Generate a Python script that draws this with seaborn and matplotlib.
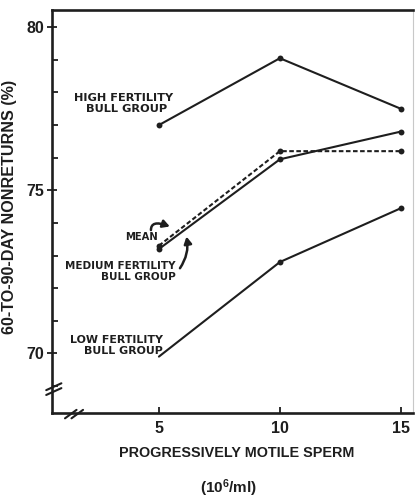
import numpy as np
import pandas as pd
import matplotlib
matplotlib.use("Agg")
import matplotlib.pyplot as plt
import seaborn as sns

# Sperm concentration (10^6/ml) and 60-90 day nonreturn rates (%)
concentration = [5, 10, 15]
high_fertility = [77.0, 79.05, 77.5]
medium_fertility = [73.2, 75.95, 76.8]
mean_all = [73.3, 76.2, 76.2]
low_fertility = [69.9, 72.8, 74.45]

x_ticks = [5, 10, 15]
y_ticks = [70, 75, 80]

sns.set_theme(style="ticks")
plt.rcParams["font.family"] = ["Liberation Sans", "DejaVu Sans"]
plt.rcParams["font.weight"] = "bold"
plt.rcParams["mathtext.default"] = "regular"

df = pd.DataFrame({
    "conc": concentration * 4,
    "rate": high_fertility + medium_fertility + mean_all + low_fertility,
    "group": ["high"] * 3 + ["medium"] * 3 + ["mean"] * 3 + ["low"] * 3,
})

fig = plt.figure(figsize=(4.15, 4.98), dpi=100)
ax = fig.add_axes([0.1253, 0.1713, 0.8697, 0.8087])

ink = "#1e1e1e"
for grp, ls in [("high", "-"), ("medium", "-"), ("mean", (0, (2.2, 1.2))), ("low", "-")]:
    sub = df[df.group == grp]
    sns.lineplot(data=sub, x="conc", y="rate", ax=ax, color=ink, lw=1.5,
                 linestyle=ls, legend=False)
    pts = sub if grp != "low" else sub[sub.conc > 5]
    sns.scatterplot(data=pts, x="conc", y="rate", ax=ax, color=ink, s=18,
                    edgecolor=ink, linewidth=0, legend=False, zorder=5)

ax.set_xlim(0.58, 15.5)
ax.set_ylim(68.18, 80.53)
ax.set_xticks(x_ticks)
ax.set_yticks(y_ticks)
ax.set_yticks(np.arange(69, 81, 1), minor=True)
ax.tick_params(axis="x", direction="in", length=4, width=1.3, color=ink,
               labelsize=11.5, pad=6, labelcolor=ink)
ax.tick_params(axis="y", which="major", direction="inout", length=7, width=1.3,
               color=ink, labelsize=11.5, pad=2, labelcolor=ink)
ax.tick_params(axis="y", which="minor", direction="in", length=4, width=1.3, color=ink)

for side in ["left", "bottom", "top"]:
    ax.spines[side].set_linewidth(1.9)
    ax.spines[side].set_color(ink)
ax.spines["right"].set_linewidth(0.8)
ax.spines["right"].set_color("#c8c8c8")

ax.set_xlabel("PROGRESSIVELY MOTILE SPERM", fontsize=10.4, fontweight="bold",
              color=ink)
ax.xaxis.set_label_coords(0.512, -0.083)
ax.text(0.488, -0.188, "(10$^{6}$/ml)", transform=ax.transAxes, ha="center",
        va="center", fontsize=11, fontweight="bold", color=ink)
ax.set_ylabel("60-TO-90-DAY NONRETURNS (%)", fontsize=11.6, fontweight="bold",
              color=ink)
ax.yaxis.set_label_coords(-0.097, 0.51)

# Axis break marks
for dx in (0.0, 0.018):
    ax.plot([0.036 + dx, 0.068 + dx], [-0.014, 0.007], transform=ax.transAxes,
            color=ink, lw=1.5, clip_on=False)
for dy in (0.0, 0.012):
    ax.plot([-0.016, 0.026], [0.044 + dy, 0.061 + dy], transform=ax.transAxes,
            color=ink, lw=1.5, clip_on=False)

lab = dict(fontweight="bold", color=ink, linespacing=1.1, family="DejaVu Sans")
ax.text(3.52, 77.65, "HIGH FERTILITY\n   BULL GROUP", ha="center", va="center",
        multialignment="left", fontsize=8.2, **lab)
ax.text(4.28, 73.57, "MEAN", ha="center", va="center", fontsize=7.2, **lab)
ax.text(5.7, 72.5, "MEDIUM FERTILITY\nBULL GROUP", ha="right", va="center",
        multialignment="right", fontsize=7.5, **lab)
ax.text(5.17, 70.25, "LOW FERTILITY\nBULL GROUP", ha="right", va="center",
        multialignment="right", fontsize=7.9, **lab)

# Pointer arrows to the mean and medium lines
arrow = dict(arrowstyle="-|>,head_length=0.45,head_width=0.25", color=ink,
             lw=1.8, shrinkA=0, shrinkB=0, mutation_scale=9)
ax.annotate("", xy=(5.45, 73.89), xytext=(4.67, 73.78),
            arrowprops=dict(connectionstyle="angle3,angleA=90,angleB=-20", **arrow))
ax.annotate("", xy=(6.14, 73.58), xytext=(5.87, 72.61),
            arrowprops=dict(connectionstyle="arc3,rad=0.2", **arrow))

fig.savefig("out.png", dpi=100, facecolor="white")
